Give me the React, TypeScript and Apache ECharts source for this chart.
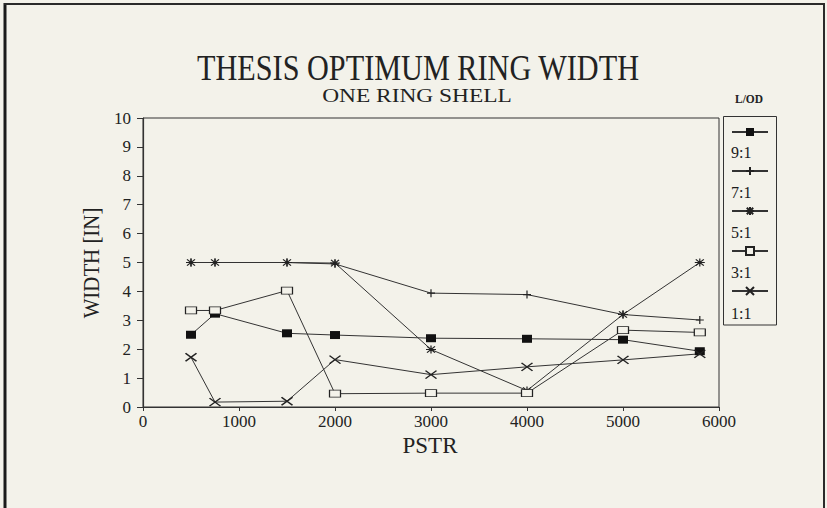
import React, { useEffect, useRef } from "react";
import * as echarts from "echarts";

const pstr = [500, 750, 1500, 2000, 3000, 4000, 5000, 5800];
const seriesNames = ["9:1", "7:1", "5:1", "3:1", "1:1"];
const w91 = [2.5, 3.23, 2.55, 2.49, 2.38, 2.36, 2.33, 1.93];
const w71 = [5.0, 5.0, 5.0, 4.95, 3.94, 3.89, 3.2, 3.01];
const w51 = [5.0, 5.0, 5.0, 4.98, 1.99, 0.57, 3.2, 5.0];
const w31 = [3.34, 3.34, 4.03, 0.46, 0.48, 0.48, 2.66, 2.58];
const w11 = [1.72, 0.17, 0.2, 1.64, 1.12, 1.39, 1.63, 1.84];
const xTicks = [0, 1000, 2000, 3000, 4000, 5000, 6000];
const yTicks = [0, 1, 2, 3, 4, 5, 6, 7, 8, 9, 10];

const BG = "#f3f2ea";
const INK = "#222";
const LINE = "#333";
const SERIF = "'Liberation Serif', 'Times New Roman', serif";

export default function App() {
  const ref = useRef<HTMLDivElement>(null);
  useEffect(() => {
    if (!ref.current) return;
    const chart = echarts.init(ref.current, undefined, { renderer: "svg" });
    const values = [w91, w71, w51, w31, w11];
    const symbols: any[] = [
      { symbol: "rect", size: [10, 8], color: "#111", bw: 0 },
      { symbol: "path://M5 0L5 10M0 5L10 5", size: [8, 8], color: INK, bw: 1.2 },
      { symbol: "path://M5 0L5 10M0 5L10 5M1 1L9 9M9 1L1 9", size: [10, 8], color: INK, bw: 1.1 },
      { symbol: "path://M0 0L10 0L10 7L0 7Z", size: [11, 7], color: BG, bw: 1 },
      { symbol: "path://M0 0L10 10M10 0L0 10", size: [11, 8], color: INK, bw: 1.4 },
    ];
    const series = seriesNames.map((name, i) => ({
      name,
      type: "line",
      data: pstr.map((x, j) => [x, values[i][j]]),
      symbol: symbols[i].symbol,
      symbolSize: symbols[i].size,
      showAllSymbol: true,
      lineStyle: { color: LINE, width: 1 },
      itemStyle: { color: symbols[i].color, borderColor: INK, borderWidth: symbols[i].bw },
      emphasis: { disabled: true },
    }));
    const legendLabelY = [152, 192, 232, 272, 313];
    chart.setOption({
      animation: false,
      backgroundColor: BG,
      grid: {
        left: 143,
        top: 118,
        width: 576,
        height: 289,
        show: true,
        borderColor: LINE,
        borderWidth: 1,
        backgroundColor: "transparent",
      },
      xAxis: {
        type: "value",
        min: xTicks[0],
        max: xTicks[xTicks.length - 1],
        interval: 1000,
        axisLine: { show: true, lineStyle: { color: LINE, width: 1.2 } },
        axisTick: { show: true, length: 4, lineStyle: { color: LINE } },
        splitLine: { show: false },
        axisLabel: {
          color: INK,
          fontFamily: SERIF,
          fontSize: 17,
          margin: 6,
          formatter: (v: number) => String(v),
        },
      },
      yAxis: {
        type: "value",
        min: yTicks[0],
        max: yTicks[yTicks.length - 1],
        interval: 1,
        axisLine: { show: true, lineStyle: { color: LINE, width: 1.2 } },
        axisTick: { show: true, length: 6, lineStyle: { color: LINE } },
        splitLine: { show: false },
        axisLabel: { color: INK, fontFamily: SERIF, fontSize: 17, margin: 12 },
      },
      legend: {
        orient: "vertical",
        left: 731,
        top: 128,
        itemWidth: 36,
        itemHeight: 10,
        itemGap: 30,
        padding: 0,
        data: seriesNames,
        formatter: () => "",
        textStyle: { fontSize: 8, lineHeight: 8 },
        selectedMode: false,
      },
      series,
      graphic: [
        { type: "line", shape: { x1: 5, y1: 3, x2: 5, y2: 508 }, style: { stroke: "#1a1a1a", lineWidth: 3 } },
        { type: "line", shape: { x1: 4, y1: 4, x2: 825, y2: 4 }, style: { stroke: "#2a2a2a", lineWidth: 2 } },
        { type: "line", shape: { x1: 824, y1: 3, x2: 824, y2: 508 }, style: { stroke: "#2a2a2a", lineWidth: 2 } },
        {
          type: "text",
          x: 418,
          y: 68,
          scaleX: 0.84,
          style: { text: "THESIS OPTIMUM RING WIDTH", fill: INK, font: `36px ${SERIF}`, align: "center", verticalAlign: "middle" },
        },
        {
          type: "text",
          x: 417,
          y: 96,
          scaleX: 1.3,
          style: { text: "ONE RING SHELL", fill: INK, font: `18px ${SERIF}`, align: "center", verticalAlign: "middle" },
        },
        {
          type: "text",
          x: 749,
          y: 99,
          scaleX: 0.88,
          style: { text: "L/OD", fill: INK, font: `bold 13px ${SERIF}`, align: "center", verticalAlign: "middle" },
        },
        {
          type: "text",
          x: 91,
          y: 263,
          rotation: Math.PI / 2,
          scaleX: 0.87,
          style: { text: "WIDTH [IN]", fill: INK, font: `24px ${SERIF}`, align: "center", verticalAlign: "middle" },
        },
        {
          type: "text",
          x: 430,
          y: 445,
          style: { text: "PSTR", fill: INK, font: `23px ${SERIF}`, align: "center", verticalAlign: "middle" },
        },
        {
          type: "rect",
          shape: { x: 723.5, y: 116.5, width: 53, height: 208.5 },
          style: { fill: "none", stroke: LINE, lineWidth: 1 },
        },
        ...seriesNames.map((n, i) => ({
          type: "text",
          x: 731,
          y: legendLabelY[i],
          style: { text: n, fill: "#1a1a1a", font: `16px ${SERIF}`, align: "left", verticalAlign: "middle" },
        })),
      ],
    });
    return () => chart.dispose();
  }, []);
  return (
    <div
      ref={ref}
      style={{ position: "absolute", left: 0, top: 0, width: 827, height: 508 }}
    />
  );
}
